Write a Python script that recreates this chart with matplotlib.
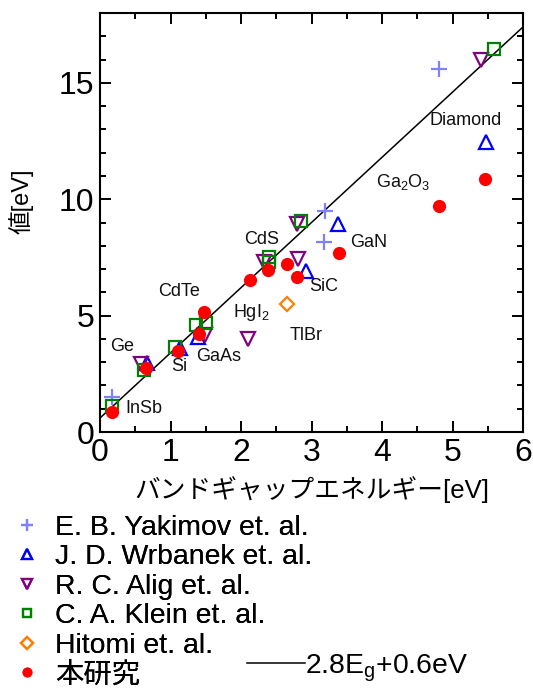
import matplotlib
matplotlib.use("Agg")
import matplotlib.pyplot as plt
from matplotlib.lines import Line2D
import numpy as np

plt.rcParams['font.family'] = ['Liberation Sans', 'Noto Sans CJK JP']
plt.rcParams['mathtext.fontset'] = 'custom'
plt.rcParams['mathtext.rm'] = 'Liberation Sans'
plt.rcParams['mathtext.default'] = 'regular'

# ---- data ----
yakimov_x = [0.17, 3.19, 3.18, 4.81]
yakimov_y = [1.50, 9.50, 8.17, 15.60]

wrbanek_x = [0.67, 1.13, 1.39, 2.92, 3.38, 5.48]
wrbanek_y = [2.97, 3.60, 4.09, 6.92, 8.95, 12.46]

alig_x = [0.58, 1.49, 2.10, 2.32, 2.81, 2.79, 5.40]
alig_y = [2.90, 4.16, 3.98, 7.30, 7.43, 8.95, 15.97]

klein_x = [0.17, 0.62, 1.07, 1.36, 1.51, 2.40, 2.40, 2.85, 5.59]
klein_y = [1.10, 2.66, 3.66, 4.59, 4.69, 7.52, 7.30, 9.05, 16.44]

hitomi_x = [2.65]
hitomi_y = [5.49]

this_x = [0.17, 0.65, 1.10, 1.40, 1.48, 2.13, 2.39, 2.65, 2.79, 3.39, 4.81, 5.46]
this_y = [0.86, 2.74, 3.49, 4.20, 5.15, 6.52, 6.95, 7.21, 6.67, 7.69, 9.72, 10.89]

fit_slope = 2.8
fit_intercept = 0.6

material_names = ['Diamond', 'Ga$_2$O$_3$', 'CdS', 'GaN', 'SiC', 'CdTe',
                  'HgI$_2$', 'TlBr', 'Ge', 'Si', 'GaAs', 'InSb']
material_x = [5.19, 4.30, 2.29, 3.81, 3.17, 1.12, 2.15, 2.93, 0.32, 1.12, 1.68, 0.62]
material_y = [13.37, 10.74, 8.27, 8.12, 6.27, 6.02, 5.12, 4.16, 3.66, 2.80, 3.23, 1.02]

series_labels = ['E. B. Yakimov et. al.', 'J. D. Wrbanek et. al.', 'R. C. Alig et. al.',
                 'C. A. Klein et. al.', 'Hitomi et. al.', '本研究']
fit_label = '2.8E$_{g}$+0.6eV'

xticks = [0, 1, 2, 3, 4, 5, 6]
yticks = [0, 5, 10, 15]

# ---- figure ----
W, H = 533, 690
fig = plt.figure(figsize=(W / 100, H / 100), dpi=100)
ax = fig.add_axes([100 / W, 1 - 432 / H, 423 / W, 419 / H])

xs = np.array([0, 6])
ax.plot(xs, fit_slope * xs + fit_intercept, color='black', lw=1.1, zorder=1)

ms_style = dict(linestyle='none', markerfacecolor='none', markeredgewidth=1.6)
h1, = ax.plot(yakimov_x, yakimov_y, marker='+', color='#8080ff', markersize=11,
              linestyle='none', markeredgewidth=1.6, zorder=2)
h2, = ax.plot(wrbanek_x, wrbanek_y, marker='^', color='#0000ff', markersize=10, zorder=3, **ms_style)
h3, = ax.plot(alig_x, alig_y, marker='v', color='#800080', markersize=10, zorder=4, **ms_style)
h4, = ax.plot(klein_x, klein_y, marker='s', color='#008000', markersize=8.5, zorder=5, **ms_style)
h5, = ax.plot(hitomi_x, hitomi_y, marker='D', color='#ff8000', markersize=7.5, zorder=6, **ms_style)
h6, = ax.plot(this_x, this_y, marker='o', color='#ff0000', markersize=9.5,
              linestyle='none', markeredgewidth=0, zorder=7)

for name, tx, ty in zip(material_names, material_x, material_y):
    ax.text(tx, ty, name, ha='center', va='center', fontsize=13, color='#111111')

ax.set_xlim(0, 6)
ax.set_ylim(0, 18)
ax.set_xticks(xticks)
ax.set_yticks(yticks)
ax.set_xticks(np.arange(0, 6.01, 0.5), minor=True)
ax.set_yticks(np.arange(0, 18.01, 1), minor=True)
ax.tick_params(which='both', direction='in', top=True, right=True, width=1.4)
ax.tick_params(which='major', length=8, labelsize=23, pad=4)
ax.tick_params(which='minor', length=4)
for sp in ax.spines.values():
    sp.set_linewidth(1.5)

ax.set_xlabel('バンドギャップエネルギー[eV]', fontsize=18.5, labelpad=6)
ax.set_ylabel('値[eV]', fontsize=17)
ax.yaxis.set_label_coords(-0.158, 0.551)

leg1 = fig.legend([h1, h2, h3, h4, h5, h6], series_labels, loc='upper left',
                  bbox_to_anchor=(14 / W, 1 - 515 / H), frameon=False, fontsize=20.4,
                  handlelength=0.9, handletextpad=0.55, labelspacing=0.12,
                  borderpad=0, borderaxespad=0, markerscale=0.75)
fit_handle = Line2D([], [], color='black', lw=1.1)
leg2 = fig.legend([fit_handle], [fit_label], loc='center left',
                  bbox_to_anchor=(247 / W, 1 - 668 / H), frameon=False, fontsize=20.4,
                  handlelength=2.05, handletextpad=0.0, borderpad=0, borderaxespad=0)
fig.add_artist(leg1)

fig.savefig('out.png', dpi=100)
